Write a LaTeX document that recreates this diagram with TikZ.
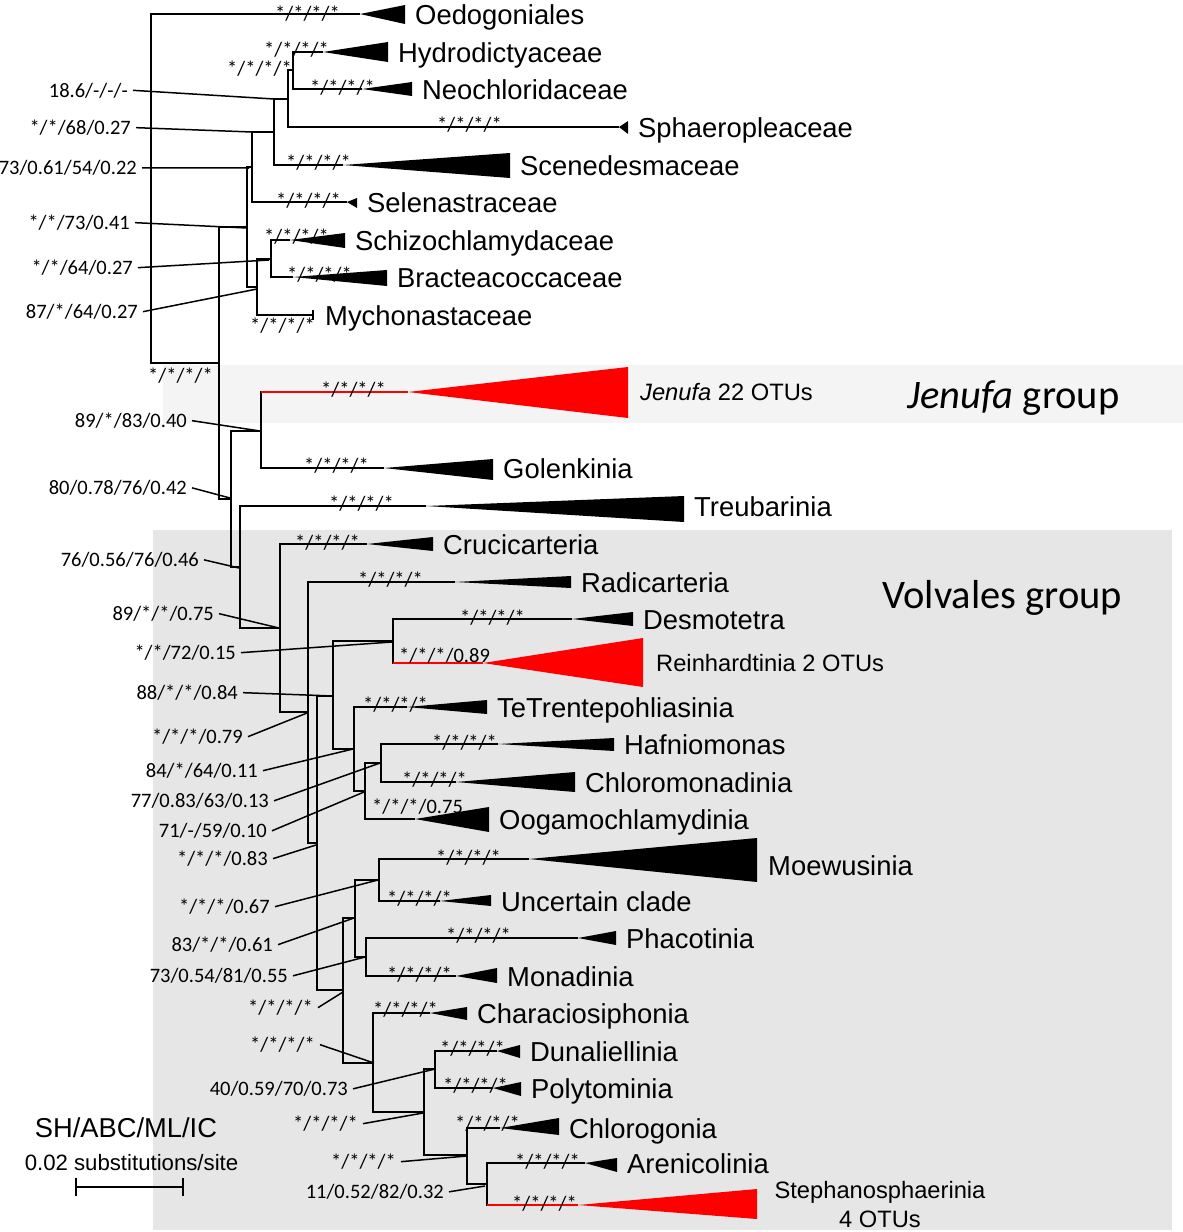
\documentclass[tikz,border=0pt]{standalone}
\usepackage{fontspec}
\setmainfont{Liberation Sans}
\newfontfamily\cali{Carlito}
\definecolor{bandc}{HTML}{F4F4F4}
\definecolor{boxc}{HTML}{E6E6E6}
\definecolor{clred}{HTML}{FF0000}
\newcommand\leaf[8]{%
  \coordinate (#1) at (#3,#4);
  \draw[br] (#2) |- (#1);
  \fill (#1) -- (#5,#6) -- (#5,#7) -- cycle;
  \node[clab] (#1-l) at (#5+10,#4+10) {#8};
}
\newcommand\redleaf[7]{%
  \coordinate (#1) at (#3,#4);
  \draw[br,line cap=rect] (#2) -- (#2|-#1);
  \draw[redbr] (#2|-#1) -- (#1);
  \fill[clred] (#1) -- (#5,#6) -- (#5,#7) -- cycle;
}
\begin{document}
\begin{tikzpicture}[x=1pt,y=-1pt,
  br/.style={line width=2.8pt},
  redbr/.style={line width=2.4pt,draw=clred},
  ptr/.style={line width=1.5pt},
  clab/.style={font=\fontsize{27.4}{32}\selectfont,inner sep=0pt,anchor=base west},
  sclab/.style={font=\fontsize{23.7}{29}\selectfont,inner sep=0pt,anchor=base west},
  supp/.style={font=\cali\fontsize{20.5}{24}\selectfont,inner sep=0pt,anchor=base west,yshift=-2pt},
  lab/.style={font=\cali\fontsize{20.5}{24}\selectfont,inner sep=0pt,anchor=base east},
  grp/.style={font=\cali\fontsize{40.5}{48}\selectfont,inner sep=0pt,anchor=base west}]
\useasboundingbox (0,0) rectangle (1183,1232);
\fill[white] (0,0) rectangle (1183,1232);
% backgrounds
\fill[bandc] (163,365) rectangle (1183,423);
\fill[boxc] (153,530) rectangle (1172,1230);
% internal nodes
\coordinate (R0) at (151,189);
\coordinate (N219) at (219,363);
\coordinate (N247) at (247,227);
\coordinate (N252) at (252,167);
\coordinate (N274) at (274,132);
\coordinate (N288) at (288,99);
\coordinate (N293) at (293,70);
\coordinate (N257) at (257,287);
\coordinate (N271) at (271,259);
\coordinate (N231) at (231,499);
\coordinate (N261) at (261,431);
\coordinate (N240) at (240,567);
\coordinate (N280) at (280,628);
\coordinate (N308) at (308,712);
\coordinate (N317) at (317,843);
\coordinate (N333) at (333,696);
\coordinate (N393) at (393,641);
\coordinate (N354) at (354,749);
\coordinate (N365) at (365,791);
\coordinate (N381) at (381,763);
\coordinate (N343) at (343,990);
\coordinate (N355) at (355,918);
\coordinate (N379) at (379,880);
\coordinate (N366) at (366,957);
\coordinate (N373) at (373,1063);
\coordinate (N424) at (424,1112);
\coordinate (N435) at (435,1069);
\coordinate (N467) at (467,1155);
\coordinate (N487) at (487,1184);
% internal edges
\foreach \p/\c in {R0/N219,N219/N247,N219/N231,N247/N252,N247/N257,N252/N274,N274/N288,
  N288/N293,N257/N271,N231/N261,N231/N240,N240/N280,N280/N308,N308/N317,N317/N333,
  N317/N343,N333/N393,N333/N354,N354/N365,N365/N381,N343/N355,N343/N373,N355/N379,
  N355/N366,N373/N424,N424/N435,N424/N467,N467/N487}
  \draw[br] (\p) |- (\c);
% leaves
\leaf{Oed}{R0}{360}{14}{405}{5}{24}{Oedogoniales}
\leaf{Hyd}{N293}{323}{52}{388}{42}{62}{Hydrodictyaceae}
\leaf{Neo}{N293}{362}{89}{412}{82}{96}{Neochloridaceae}
\leaf{Sph}{N288}{619}{127}{628}{121}{134}{Sphaeropleaceae}
\leaf{Sce}{N274}{343}{165}{510}{153}{178}{Scenedesmaceae}
\leaf{Sel}{N252}{347}{202}{357}{198}{208}{Selenastraceae}
\leaf{Sch}{N271}{290}{240}{345}{233}{248}{Schizochlamydaceae}
\leaf{Bra}{N271}{293}{277}{387}{270}{286}{Bracteacoccaceae}
\coordinate (Myc) at (313,315);
\draw[br] (N257) |- (Myc);
\draw[line width=2.4pt] (313,310) -- (313,320);
\node[clab] (Myc-l) at (325,325) {Mychonastaceae};
\redleaf{Jen}{N261}{408}{392}{628}{367}{418}
\node[sclab] (Jen-l) at (640,400.5) {\textit{Jenufa} 22 OTUs};
\leaf{Gol}{N261}{384}{468}{493}{459}{480}{Golenkinia}
\leaf{Tre}{N240}{426}{506}{684}{496}{522}{Treubarinia}
\leaf{Cru}{N280}{367}{544}{433}{537}{551}{Crucicarteria}
\leaf{Rad}{N308}{455}{582}{571}{576}{588}{Radicarteria}
\leaf{Des}{N393}{572}{619}{633}{612}{626}{Desmotetra}
\redleaf{Rei}{N393}{483}{663}{643}{638}{687}
\node[sclab] (Rei-l) at (656,671) {Reinhardtinia 2 OTUs};
\leaf{TeT}{N354}{407}{707}{487}{700}{714}{TeTrentepohliasinia}
\leaf{Haf}{N381}{498}{744}{614}{738}{751}{Hafniomonas}
\leaf{Chm}{N381}{456}{782}{575}{772}{792}{Chloromonadinia}
\leaf{Oog}{N365}{415}{819}{489}{807}{832}{Oogamochlamydinia}
\coordinate (Moe) at (529,859);
\draw[br] (N379) |- (Moe);
\fill (Moe) -- (757,838) -- (757,882) -- cycle;
\node[clab] (Moe-l) at (768,875) {Moewusinia};
\leaf{Unc}{N379}{440}{901}{491}{895}{906}{Uncertain clade}
\leaf{Pha}{N366}{578}{938}{616}{931}{945}{Phacotinia}
\leaf{Mon}{N366}{456}{976}{497}{968}{983}{Monadinia}
\leaf{Cha}{N373}{430}{1013}{467}{1007}{1020}{Characiosiphonia}
\leaf{Dun}{N435}{497}{1051}{520}{1045}{1058}{Dunaliellinia}
\leaf{Pol}{N435}{493}{1088}{521}{1082}{1096}{Polytominia}
\leaf{Chg}{N467}{500}{1128}{559}{1118}{1135}{Chlorogonia}
\leaf{Are}{N487}{585}{1163}{617}{1158}{1172}{Arenicolinia}
\redleaf{Ste}{N487}{578}{1205}{757}{1189}{1219}
\node[font=\fontsize{23.7}{29}\selectfont,inner sep=0pt,anchor=base,align=center] (Ste-l) at (880,1227) {Stephanosphaerinia\\4 OTUs};
% branch supports
\node[supp] (s1) at (275,18) {*/*/*/*};
\node[supp] (s2) at (264,54) {*/*/*/*};
\node[supp] (s3) at (227,73) {*/*/*/*};
\node[supp] (s4) at (310,92) {*/*/*/*};
\node[supp] (s5) at (437,129) {*/*/*/*};
\node[supp] (s6) at (286,167) {*/*/*/*};
\node[supp] (s7) at (276,205) {*/*/*/*};
\node[supp] (s8) at (264,241) {*/*/*/*};
\node[supp] (s9) at (287,279) {*/*/*/*};
\node[supp] (s10) at (250,330) {*/*/*/*};
\node[supp] (s11) at (148,380) {*/*/*/*};
\node[supp] (s12) at (321,394) {*/*/*/*};
\node[supp] (s13) at (304,470) {*/*/*/*};
\node[supp] (s14) at (329,508) {*/*/*/*};
\node[supp] (s15) at (295,547) {*/*/*/*};
\node[supp] (s16) at (358,584) {*/*/*/*};
\node[supp] (s17) at (460,622) {*/*/*/*};
\node[supp] (s18) at (399,660) {*/*/*/0.89};
\node[supp] (s19) at (363,709) {*/*/*/*};
\node[supp] (s20) at (432,747) {*/*/*/*};
\node[supp] (s21) at (402,784) {*/*/*/*};
\node[supp] (s22) at (372,811) {*/*/*/0.75};
\node[supp] (s23) at (436,862) {*/*/*/*};
\node[supp] (s24) at (387,903) {*/*/*/*};
\node[supp] (s25) at (446,940) {*/*/*/*};
\node[supp] (s26) at (387,979) {*/*/*/*};
\node[supp] (s27) at (373,1014) {*/*/*/*};
\node[supp] (s28) at (440,1053) {*/*/*/*};
\node[supp] (s29) at (443,1090) {*/*/*/*};
\node[supp] (s30) at (455,1128) {*/*/*/*};
\node[supp] (s31) at (515,1166) {*/*/*/*};
\node[supp] (s32) at (512,1208) {*/*/*/*};
% node labels with pointers
\foreach \n/\lx/\ly/\tx/\ty/\t in {
  a/128/97/274/99/{18.6/-/-/-},
  b/131/134.5/252/132/{*/*/68/0.27},
  c/137/174.5/249/168/{73/0.61/54/0.22},
  d/130/229.5/247/228/{*/*/73/0.41},
  e/133/274.5/269/260/{*/*/64/0.27},
  f/138/318.5/257/289/{87/*/64/0.27},
  g/187/427.5/260/431/{89/*/83/0.40},
  h/187/494.5/230/498/{80/0.78/76/0.42},
  i/199/566.5/239/568/{76/0.56/76/0.46},
  j/214/620.5/279/628/{89/*/*/0.75},
  k/236/659.5/392/642/{*/*/72/0.15},
  l/238/699.5/333/696/{88/*/*/0.84},
  m/243/743.5/307/713/{*/*/*/0.79},
  n/258/777.5/353/749/{84/*/64/0.11},
  o/269/807.5/380/763/{77/0.83/63/0.13},
  p/267/837.5/364/792/{71/-/59/0.10},
  q/268/865.5/316/845/{*/*/*/0.83},
  r/270/913.5/378/880/{*/*/*/0.67},
  s/273/951.5/354/918/{83/*/*/0.61},
  t/288/982.5/365/957/{73/0.54/81/0.55},
  u/313/1014.5/343/992/{*/*/*/*},
  v/315/1051.5/374/1063/{*/*/*/*},
  w/348/1095.5/435/1069/{40/0.59/70/0.73},
  x/358/1130.5/423/1113/{*/*/*/*},
  y/396/1168.5/467/1156/{*/*/*/*},
  z/444/1198.5/485/1186/{11/0.52/82/0.32}}{
  \node[lab] (L\n) at (\lx,\ly) {\t};
  \coordinate (T\n) at (\tx,\ty);
  \draw[ptr] ([xshift=5pt]L\n.east) -- (T\n);
}
% group labels
\node[grp] (jg) at (907,408) {\textit{Jenufa} group};
\node[grp] (vg) at (882,608) {Volvales group};
% legend and scale bar
\node[font=\fontsize{27.3}{32}\selectfont,inner sep=0pt,anchor=base] (leg) at (126,1137) {SH/ABC/ML/IC};
\node[font=\fontsize{22.2}{27}\selectfont,inner sep=0pt,anchor=base] (sc) at (131.5,1170) {0.02 substitutions/site};
\coordinate (sbL) at (76,1187);
\coordinate (sbR) at (183,1187);
\draw[line width=2.6pt] (sbL) -- (sbR);
\draw[line width=2.6pt] ([yshift=9pt]sbL) -- ([yshift=-9pt]sbL);
\draw[line width=2.6pt] ([yshift=9pt]sbR) -- ([yshift=-9pt]sbR);
\end{tikzpicture}
\end{document}
